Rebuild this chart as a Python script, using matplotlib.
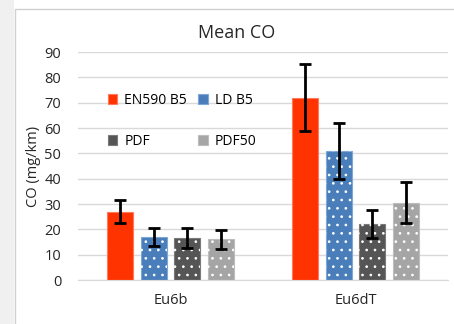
import numpy as np
import matplotlib
matplotlib.use("Agg")
import matplotlib.pyplot as plt
from matplotlib.patches import Rectangle

categories = ["Eu6b", "Eu6dT"]
series = ["EN590 B5", "LD B5", "PDF", "PDF50"]
means = {
    "EN590 B5": [27.0, 72.0],
    "LD B5": [17.0, 51.0],
    "PDF": [16.5, 22.0],
    "PDF50": [16.0, 30.5],
}
errors = {
    "EN590 B5": [4.6, 13.3],
    "LD B5": [3.5, 11.0],
    "PDF": [4.0, 5.6],
    "PDF50": [3.9, 8.0],
}

fills = {"EN590 B5": "#ff3300", "LD B5": "#4a7ebb", "PDF": "#555555", "PDF50": "#a5a5a5"}
edges = {"EN590 B5": "#ff7a5c", "LD B5": "#7ea6d6", "PDF": "#7a7a7a", "PDF50": "#bdbdbd"}
dotted = {"EN590 B5": False, "LD B5": True, "PDF": True, "PDF50": True}

plt.rcParams["font.family"] = ["Open Sans", "DejaVu Sans"]
plt.rcParams["hatch.linewidth"] = 0.7

fig = plt.figure(figsize=(4.54, 3.24), dpi=100)

# window edge and chart frame, kept behind the axes
fig.patches.append(Rectangle((0, 0), 14 / 454, 1, transform=fig.transFigure,
                             facecolor="#f0f0f0", edgecolor="none", zorder=-10))
fig.patches.append(Rectangle((15 / 454, -0.1), 1.2, 1.1 - 9 / 324, transform=fig.transFigure,
                             facecolor="white", edgecolor="#d0d0d0", linewidth=1.0,
                             zorder=-9))

ax = fig.add_axes([78 / 454, (324 - 280) / 324, 370 / 454, 228 / 324])
ax.set_facecolor("none")

x = np.arange(len(categories))
step = 0.182
width = 0.14
handles = {}
for i, name in enumerate(series):
    pos = x + (i - 1.5) * step
    handles[name] = ax.bar(pos, means[name], width, color=fills[name], edgecolor=edges[name],
                           linewidth=0.8, label=name, zorder=2)
    if dotted[name]:
        ax.bar(pos, means[name], width, fill=False, edgecolor="white",
               linewidth=0, hatch="..", zorder=3)
    ax.errorbar(pos, means[name], yerr=errors[name], fmt="none", ecolor="black",
                elinewidth=2, capsize=4, capthick=2, zorder=4)

ax.set_xlim(-0.5, 1.5)
ax.set_ylim(0, 90)
ax.set_yticks(np.arange(0, 91, 10))
ax.set_xticks(x)
ax.set_xticklabels(categories)
ax.yaxis.grid(True, color="#d9d9d9", linewidth=1.0, zorder=0)
ax.set_axisbelow(True)
for s in ["top", "right", "left"]:
    ax.spines[s].set_visible(False)
ax.spines["bottom"].set_color("#d9d9d9")
ax.tick_params(axis="both", length=0, labelsize=10.5, colors="#262626")
ax.tick_params(axis="y", pad=12)
ax.tick_params(axis="x", pad=9)
ax.set_ylabel("CO (mg/km)", fontsize=10.5, color="#262626")
ax.yaxis.set_label_coords(-0.10, 0.5)
fig.text(0.5 + 10 / 454, 1 - 33 / 324, "Mean CO", ha="center", va="center",
         fontsize=13, color="#262626")

# legend rows: EN590 B5 / LD B5, then PDF / PDF50
order = ["EN590 B5", "PDF", "LD B5", "PDF50"]
ax.legend([handles[n] for n in order], order, loc="upper left",
          bbox_to_anchor=(0.065, 0.845), ncol=2, frameon=False,
          fontsize=10, handlelength=0.7, handleheight=0.7, handletextpad=0.5,
          columnspacing=0.8, labelspacing=1.85, borderaxespad=0)

fig.savefig("out.png", dpi=100)
